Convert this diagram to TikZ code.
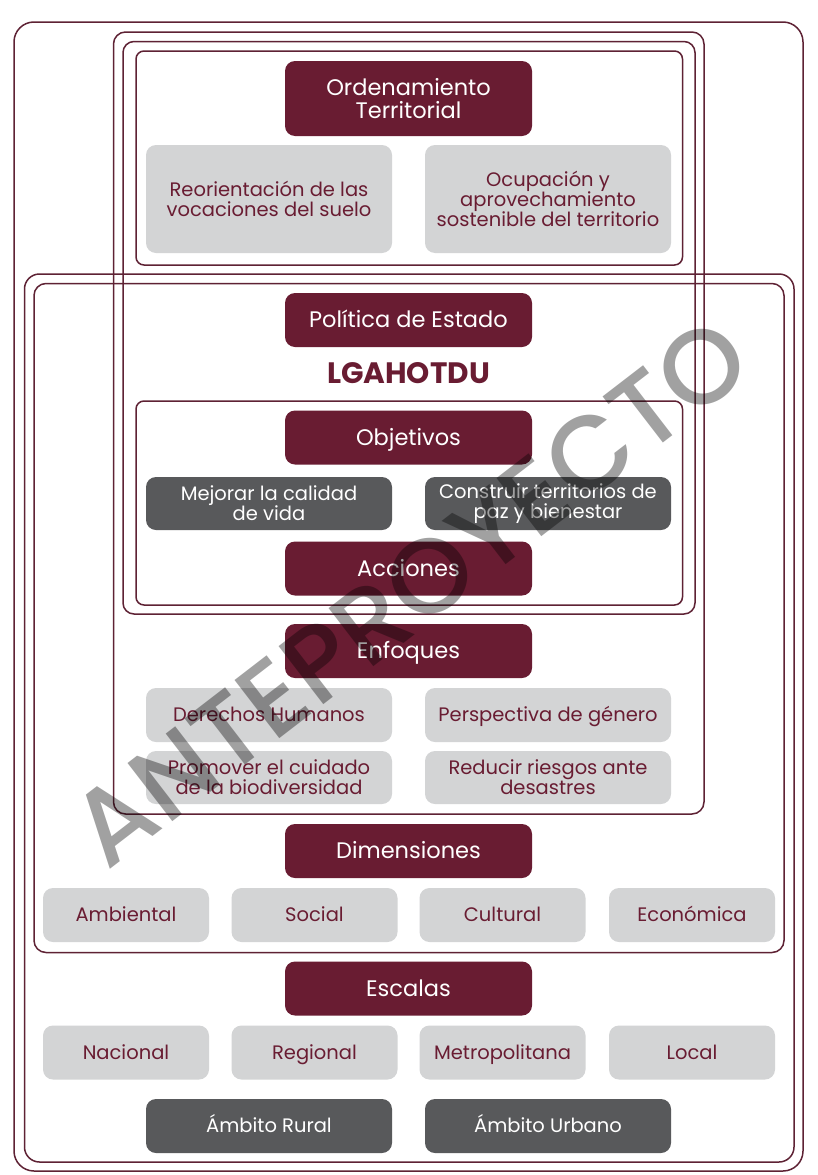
\documentclass[tikz,border=0pt]{standalone}
\usepackage{fontspec}
\setmainfont{Poppins}
\newfontfamily\wmfont{Poppins}[UprightFont={* Medium}]
\definecolor{guinda}{HTML}{691C32}
\definecolor{frameline}{HTML}{5E2234}
\definecolor{lgray}{HTML}{D3D4D5}
\definecolor{dgray}{HTML}{58595B}
\tikzset{
  frame/.style={draw=frameline, line width=1.5pt},
  hone/.style={text height=18pt, text depth=2.2pt},
  lone/.style={text height=16pt, text depth=2.4pt},
  hdr/.style={fill=guinda, text=white, rounded corners=10pt, minimum width=247pt, minimum height=54pt, inner sep=0pt, align=center, font=\fontsize{22.5}{23.5}\selectfont},
  lbox/.style={fill=lgray, text=guinda, rounded corners=10pt, minimum width=246pt, minimum height=54pt, inner sep=0pt, align=center, font=\fontsize{19.5}{20}\selectfont},
  dbox/.style={fill=dgray, text=white, rounded corners=10pt, minimum width=246pt, minimum height=54pt, inner sep=0pt, align=center, font=\fontsize{19.5}{20}\selectfont},
  qbox/.style={fill=lgray, text=guinda, rounded corners=10pt, minimum width=166pt, minimum height=54pt, inner sep=0pt, align=center, font=\fontsize{19.5}{20}\selectfont, lone},
}
\begin{document}
\begin{tikzpicture}[x=1pt,y=-1pt]
\useasboundingbox[fill=white] (0,0) rectangle (818,1175);
% frames
\draw[frame, rounded corners=20pt] (14,22) rectangle (803,1171);
\draw[frame, rounded corners=12pt] (113.5,32) rectangle (704,814);
\draw[frame, rounded corners=11pt] (123,41.5) rectangle (695,614);
\draw[frame, rounded corners=8pt] (136,51) rectangle (682.5,265);
\draw[frame, rounded corners=15pt] (24.5,274) rectangle (794,1162);
\draw[frame, rounded corners=12pt] (34,283.5) rectangle (784,952.5);
\draw[frame, rounded corners=8pt] (136,401) rectangle (682.5,605);
% headers
\node[hdr, minimum height=75pt] (ord) at (408.5,98.5) {Ordenamiento\\Territorial};
\node[hdr, hone] (pol) at (408.5,320) {Política de Estado};
\node[text=guinda, font=\fontsize{29.5}{31}\selectfont\bfseries] (lga) at (408.5,373) {LGAHOTDU};
\node[hdr, hone] (obj) at (408.5,437.5) {Objetivos};
\node[hdr, hone] (acc) at (408.5,568.5) {Acciones};
\node[hdr, hone] (enf) at (408.5,651) {Enfoques};
\node[hdr, hone] (dim) at (408.5,851) {Dimensiones};
\node[hdr, hone] (esc) at (408.5,988.5) {Escalas};
% two-column boxes
\node[lbox, minimum height=108pt] (reo) at (269,199) {Reorientación de las\\vocaciones del suelo};
\node[lbox, minimum height=108pt] (ocu) at (548,199) {Ocupación y\\aprovechamiento\\sostenible del territorio};
\node[dbox, minimum height=53pt] (mej) at (269,503.5) {Mejorar la calidad\\de vida};
\node[dbox, minimum height=53pt] (con) at (548,503.5) {Construir territorios de\\paz y bienestar};
\node[lbox, lone] (der) at (269,715) {Derechos Humanos};
\node[lbox, lone] (per) at (548,715) {Perspectiva de género};
\node[lbox, minimum height=53pt] (pro) at (269,777.5) {Promover el cuidado\\de la biodiversidad};
\node[lbox, minimum height=53pt] (red) at (548,777.5) {Reducir riesgos ante\\desastres};
\node[dbox, lone] (rur) at (269,1126) {Ámbito Rural};
\node[dbox, lone] (urb) at (548,1126) {Ámbito Urbano};
% four-column boxes
\node[qbox] (amb) at (126,915) {Ambiental};
\node[qbox] (soc) at (314.5,915) {Social};
\node[qbox] (cul) at (502.5,915) {Cultural};
\node[qbox] (eco) at (692,915) {Económica};
\node[qbox] (nac) at (126,1052.5) {Nacional};
\node[qbox] (reg) at (314.5,1052.5) {Regional};
\node[qbox] (met) at (502.5,1052.5) {Metropolitana};
\node[qbox] (loc) at (692,1052.5) {Local};
% watermark
\node[rotate=37.6, text=black, opacity=0.37, font=\wmfont\fontsize{105.5}{105.5}\selectfont, inner sep=0pt] (wm) at (410,592) {ANTEPROYECTO};
\end{tikzpicture}
\end{document}
